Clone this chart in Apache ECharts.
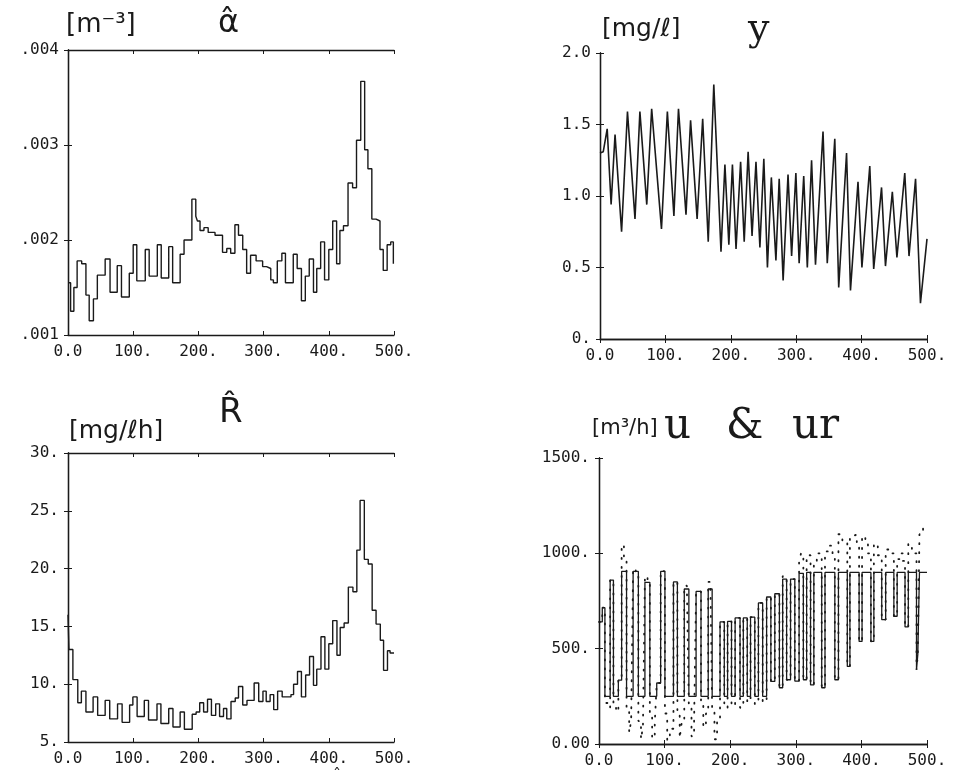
<!DOCTYPE html>
<html>
<head>
<meta charset="UTF-8">
<title>alpha, y, R, u & ur</title>
<script src="https://cdn.jsdelivr.net/npm/echarts@6/dist/echarts.min.js"></script>
<style>
  html, body { margin: 0; padding: 0; background: #fff; }
  #main { width: 956px; height: 780px; }
</style>
</head>
<body>
<div id="main"></div>
<script type="text/javascript">
// x axis ticks shared by all four panels
var xTicks = [0, 100, 200, 300, 400, 500];

// alpha hat [m^-3], step values (start x of each step)
var alphaX = [0, 4, 9, 14, 21, 27.5, 32.5, 39, 45, 57, 64.5, 75.5, 82, 94, 100, 105.5, 118.5, 124.5, 137, 143,
  154.5, 160.5, 172, 178, 190, 196, 198.5, 202.5, 208.5, 215, 225.5, 237, 243.5, 249.5, 256, 261.5, 268, 274, 280, 288.5,
  298.5, 304.5, 311, 315, 321, 328, 333.5, 345.5, 351.5, 358, 364, 370, 376.5, 381.5, 387.5, 393.5, 400, 406, 412, 417,
  422.5, 429.5, 436.5, 442.5, 449, 455, 460, 466, 472.5, 478.5, 483.5, 489.5, 495, 499];
var alphaY = [.00155, .00125, .0015, .00178, .00175, .00142, .00115, .00138, .00163, .0018,
  .00145, .00173, .0014, .00165, .00195, .00157, .0019, .00162, .00195, .0016,
  .00193, .00155, .00185, .002, .00243, .00225, .0022, .0021, .00213, .00208,
  .00205, .00187, .00191, .00186, .00216, .00205, .0019, .00165, .00184, .00178,
  .00172, .0017, .00158, .00155, .00178, .00186, .00155, .00185, .0017, .00136,
  .00162, .0018, .00145, .0017, .00198, .00158, .0019, .0022, .00175, .0021,
  .00215, .0026, .00255, .00305, .00367, .00295, .00275, .00222, .0022, .0019,
  .00168, .00195, .00198, .00175];

// y [mg/l], peaks and troughs
var yX = [0, 5, 11, 17, 23, 33, 42, 53.5, 61, 71.5, 79, 94, 103, 113, 120, 131.5, 138.5, 148.5, 157, 165.5,
  174, 185, 191, 197, 202.5, 208, 215, 220.5, 226.5, 232.5, 238.5, 244.5, 250.5, 256, 262, 269, 274, 280, 287.5, 293,
  299.5, 304.5, 311.5, 317, 323.5, 329.5, 341, 347.5, 359, 365, 377, 383, 394.5, 400.5, 412.5, 418.5, 430.5, 436.5, 447, 454,
  466, 472.5, 482.5, 490, 500];
var yV = [1.3, 1.31, 1.47, 0.94, 1.43, 0.75, 1.59, 0.84, 1.59, 0.94, 1.61, 0.77, 1.59, 0.86, 1.61, 0.87, 1.53, 0.84, 1.54, 0.68,
  1.78, 0.61, 1.22, 0.66, 1.22, 0.63, 1.24, 0.68, 1.31, 0.72, 1.24, 0.64, 1.26, 0.5, 1.13, 0.55, 1.12, 0.41, 1.15, 0.58,
  1.16, 0.53, 1.14, 0.5, 1.25, 0.52, 1.45, 0.53, 1.4, 0.36, 1.3, 0.34, 1.1, 0.5, 1.21, 0.49, 1.06, 0.51, 1.03, 0.57,
  1.16, 0.58, 1.12, 0.25, 0.7];

// R hat [mg/lh], step values
var rX = [0, 1.5, 7.5, 15, 20.5, 27.5, 38.5, 45.5, 57, 64, 76, 83, 94.5, 99.5, 106, 117, 123.5, 136.5, 142.5, 154.5,
  161, 172, 178.5, 190.5, 196.5, 202, 208, 214, 220, 226.5, 232.5, 238.5, 243.5, 250, 256.5, 261.5, 268, 274.5, 285.5, 292.5,
  299, 304, 310, 315.5, 321.5, 328.5, 342, 346, 352, 358, 364.5, 370.5, 376.5, 381.5, 388, 394, 400, 406, 412.5, 417.5,
  423.5, 430, 437, 443, 448, 454.5, 460.5, 466.5, 472.5, 479, 484, 490, 494];
var rY = [16, 13, 10.4, 8.4, 9.4, 7.6, 8.9, 7.3, 8.6, 7.0, 8.3, 6.7, 8.2, 8.9, 7.2, 8.6, 6.9, 8.3, 6.6, 7.9,
  6.3, 7.6, 6.1, 7.4, 7.6, 8.4, 7.6, 8.7, 7.3, 8.3, 7.2, 7.9, 7.0, 8.5, 8.8, 9.8, 8.2, 8.6, 10.1, 8.5,
  9.4, 8.5, 9.1, 7.8, 9.4, 8.9, 9.1, 10.0, 11.1, 8.9, 10.8, 12.4, 9.9, 11.3, 14.1, 11.3, 13.5, 15.5, 12.5, 14.9,
  15.3, 18.4, 18.0, 21.6, 25.9, 20.8, 20.4, 16.4, 15.2, 13.8, 11.2, 12.9, 12.7];

// u [m3/h], step values (saturated 250..900)
var uX = [0, 5, 9, 17, 22, 29.5, 34.5, 42, 52, 60, 70, 77.5, 88, 94, 100.5, 113.5, 119.5, 130, 137, 148,
  155.5, 166.5, 172.5, 184.5, 191, 196, 202, 207.5, 215, 220, 226, 231, 237.5, 243, 249.5, 255.5, 262, 268, 275, 280,
  286, 292, 298.5, 305, 311.5, 316.5, 322.5, 327.5, 339.5, 344.5, 359.5, 365, 378.5, 382.5, 396.5, 401, 414.5, 419, 431, 437,
  449.5, 454.5, 466.5, 471.5, 484, 486, 488.5, 500];
var uV = [640, 715, 250, 860, 250, 335, 905, 250, 905, 250, 848, 250, 320, 905, 250, 850, 250, 813, 250, 800,
  250, 813, 250, 640, 250, 643, 250, 661, 250, 661, 250, 665, 250, 740, 250, 771, 328, 788, 295, 865,
  337, 865, 330, 895, 337, 900, 310, 900, 295, 900, 337, 900, 407, 900, 538, 900, 538, 900, 652, 900,
  670, 900, 614, 900, 390, 470, 900, 900];

// ur [m3/h], unsaturated request, step values
var urX = [0, 5, 9, 13, 17, 22, 26, 29.5, 34.5, 38, 42, 46, 49, 52, 56, 60, 64, 67, 70, 74,
  77.5, 81, 85, 88, 94, 97, 100.5, 104, 108, 113.5, 116, 119.5, 123, 126, 130, 134, 137, 141, 145, 148,
  155.5, 159, 163, 166.5, 170, 172.5, 176, 180, 184.5, 191, 196, 202, 207.5, 215, 220, 226, 231, 237.5, 243, 249.5,
  255.5, 262, 268, 275, 280, 286, 292, 298.5, 305, 308, 311.5, 316.5, 322.5, 327.5, 332, 339.5, 344.5, 350, 356, 359.5,
  365, 371, 378.5, 382.5, 388, 393, 396.5, 401, 406, 410, 414.5, 419, 425, 431, 437, 443, 449.5, 454.5, 459, 463,
  466.5, 471.5, 477, 484, 486, 488.5, 494, 500];
var urV = [640, 715, 215, 190, 860, 200, 170, 335, 1045, 960, 170, 60, 120, 920, 905, 120, 25, 90, 880, 848,
  150, 30, 110, 320, 910, 905, 160, 20, 80, 850, 850, 170, 30, 110, 830, 813, 190, 40, 130, 800,
  200, 90, 160, 850, 813, 180, 25, 120, 640, 190, 643, 200, 661, 190, 661, 220, 665, 210, 740, 220,
  771, 328, 788, 295, 880, 337, 865, 330, 960, 1000, 337, 990, 310, 960, 1000, 295, 1010, 1040, 990, 337,
  1100, 1060, 407, 1090, 1100, 1050, 538, 1090, 1060, 1000, 538, 1050, 990, 652, 1020, 1000, 670, 970, 1000, 960,
  614, 1050, 1000, 390, 470, 1100, 1130, 1130];

function pairs(xs, ys, endX) {
    var out = [];
    for (var i = 0; i < xs.length; i++) out.push([xs[i], ys[i]]);
    if (endX != null && xs[xs.length - 1] < endX) out.push([endX, ys[ys.length - 1]]);
    return out;
}

var monoFont = 'DejaVu Sans Mono';
var ink = '#1a1a1a';

var grids = [
    { left: 68, top: 50, width: 326, height: 285 },
    { left: 600, top: 53, width: 327, height: 286 },
    { left: 68, top: 453, width: 326, height: 289 },
    { left: 599, top: 458, width: 328, height: 286 }
];

var yCfg = [
    { min: 0.001, max: 0.004, interval: 0.001, fmt: function (v) { return v.toFixed(3).slice(1); } },
    { min: 0, max: 2, interval: 0.5, fmt: function (v) { return v === 0 ? '0.' : v.toFixed(1); } },
    { min: 5, max: 30, interval: 5, fmt: function (v) { return v + '.'; } },
    { min: 0, max: 1500, interval: 500, fmt: function (v) { return v === 0 ? '0.00' : v + '.'; } }
];

var xAxes = [], yAxes = [];
grids.forEach(function (g, i) {
    g.show = false;
    var line = { show: true, lineStyle: { color: ink, width: 1.3 } };
    var tick = { show: true, inside: true, length: 4, lineStyle: { color: ink, width: 1 } };
    xAxes.push({
        type: 'value', gridIndex: i, min: 0, max: 500, interval: 100, position: 'bottom',
        axisLine: line, axisTick: tick, splitLine: { show: false },
        axisLabel: {
            margin: 9, color: ink, fontFamily: monoFont, fontSize: 16,
            formatter: function (v) { return v === 0 ? '0.0' : v + '.'; }
        }
    });
    xAxes.push({
        type: 'value', gridIndex: i, min: 0, max: 500, interval: 100, position: 'top',
        axisLine: line, axisTick: tick, splitLine: { show: false }, axisLabel: { show: false }
    });
    yAxes.push({
        type: 'value', gridIndex: i, min: yCfg[i].min, max: yCfg[i].max, interval: yCfg[i].interval, position: 'left',
        axisLine: line, axisTick: tick, splitLine: { show: false },
        axisLabel: { margin: 9, color: ink, fontFamily: monoFont, fontSize: 16, formatter: yCfg[i].fmt }
    });
    yAxes.push({
        type: 'value', gridIndex: i, min: yCfg[i].min, max: yCfg[i].max, interval: yCfg[i].interval, position: 'right',
        axisLine: line, axisTick: tick, splitLine: { show: false }, axisLabel: { show: false }
    });
});

function lineSeries(name, gi, data, step, style) {
    return {
        name: name, type: 'line', xAxisIndex: gi * 2, yAxisIndex: gi * 2,
        data: data, step: step, showSymbol: false, symbol: 'none', animation: false,
        lineStyle: style || { color: ink, width: 1.4 }
    };
}

function txt(x, y, s, size, family, extra) {
    var st = { text: s, fill: ink, fontSize: size, fontFamily: family || 'DejaVu Sans', verticalAlign: 'top' };
    if (extra) for (var k in extra) st[k] = extra[k];
    return { type: 'text', left: x, top: y, style: st, silent: true };
}

var myChart = echarts.init(document.getElementById('main'));

var option = {
    backgroundColor: '#fff',
    animation: false,
    grid: grids,
    xAxis: xAxes,
    yAxis: yAxes,
    series: [
        lineSeries('alpha', 0, pairs(alphaX, alphaY, 500), 'end'),
        lineSeries('y', 1, pairs(yX, yV), false, { color: ink, width: 1.6 }),
        lineSeries('R', 2, pairs(rX, rY, 500), 'end'),
        lineSeries('ur', 3, pairs(urX, urV), 'end', { color: ink, width: 1.8, type: [1, 8], cap: 'round' }),
        lineSeries('u', 3, pairs(uX, uV), 'end', { color: ink, width: 1.3 })
    ],
    graphic: [
        txt(66, 12, '[m\u207B\u00B3]', 26),
        txt(218, 8, '\u03B1\u0302', 32),
        txt(602, 17, '[mg/\u2113]', 25),
        txt(748, 11, 'y', 38, 'DejaVu Serif'),
        txt(69, 419, '[mg/\u2113h]', 25),
        txt(219, 396, 'R\u0302', 34),
        txt(592, 418, '[m\u00B3/h]', 21),
        txt(664, 406, 'u', 42, 'DejaVu Serif'),
        txt(726, 406, '&', 42, 'DejaVu Serif'),
        txt(792, 406, 'ur', 42, 'DejaVu Serif'),
        txt(333, 768, '\u02C6', 16)
    ]
};

myChart.setOption(option);
</script>
</body>
</html>
